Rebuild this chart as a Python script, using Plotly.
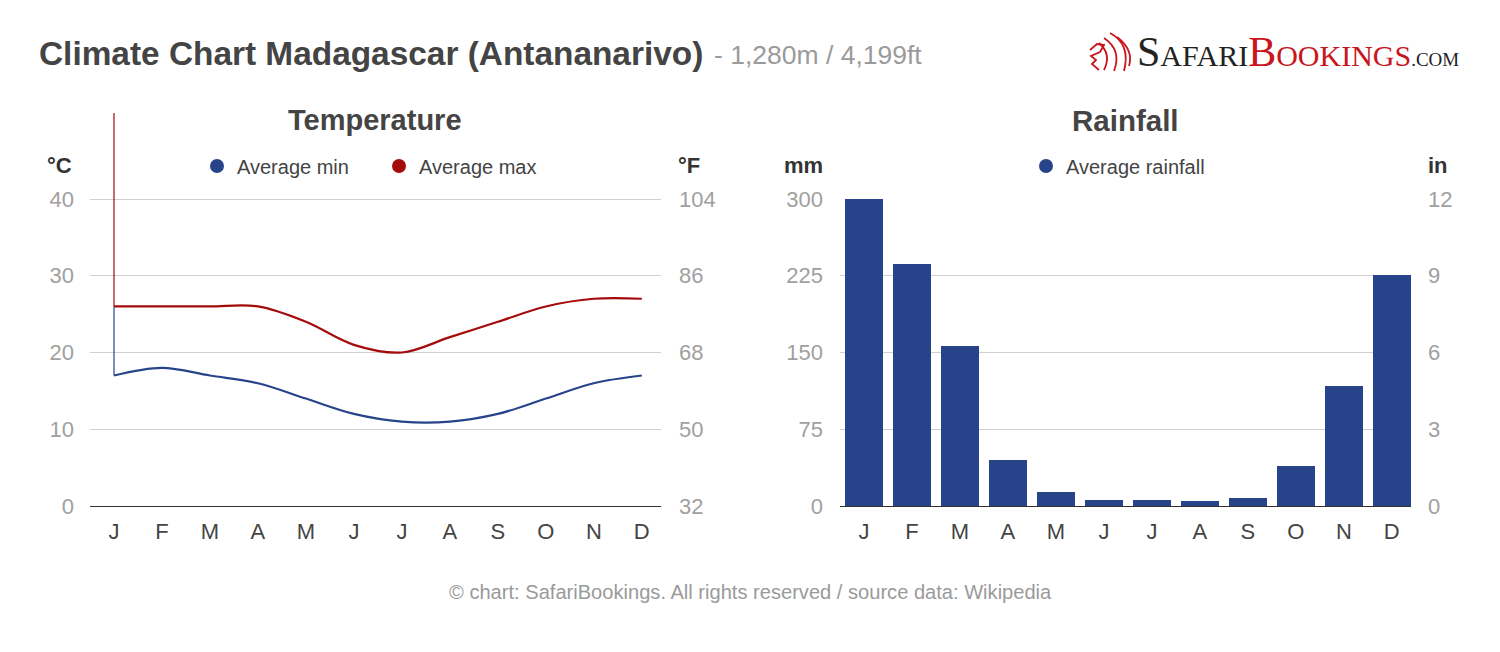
import plotly.graph_objects as go

# ---------------- data ----------------
MONTHS = ['Jan', 'Feb', 'Mar', 'Apr', 'May', 'Jun', 'Jul', 'Aug', 'Sep', 'Oct', 'Nov', 'Dec']
MONTH_TICKS = ['J', 'F', 'M', 'A', 'M', 'J', 'J', 'A', 'S', 'O', 'N', 'D']
TEMP_MIN_C = [17, 18, 17, 16, 14, 12, 11, 11, 12, 14, 16, 17]
TEMP_MAX_C = [26, 26, 26, 26, 24, 21, 20, 22, 24, 26, 27, 27]
RAIN_MM = [300, 236, 156, 45, 14, 6, 6, 5, 8, 39, 117, 226]
C_TICKS = [0, 10, 20, 30, 40]
F_TICKS = [32, 50, 68, 86, 104]
MM_TICKS = [0, 75, 150, 225, 300]
IN_TICKS = [0, 3, 6, 9, 12]

# ---------------- style ----------------
W, H = 1500, 652
FONT = 'Liberation Sans, Arial, sans-serif'
BLUE = '#27448b'
RED = '#a50b0b'
LOGO_RED = '#c8161d'
GRID = '#d0d0d0'
TICK_GREY = '#a0a0a0'
DARK = '#444444'


def px(x):
    return x / W


def py(y):
    return 1 - y / H


T_TOP = 40 * (506 - 113) / (506 - 199)   # temperature axis extends above 40 (artefact line)

fig = go.Figure()

# temperature lines
fig.add_trace(go.Scatter(x=MONTHS, y=TEMP_MIN_C, mode='lines', line=dict(color=BLUE, width=2.2, shape='spline', smoothing=1),
                         showlegend=False, xaxis='x', yaxis='y', hoverinfo='skip'))
fig.add_trace(go.Scatter(x=MONTHS, y=TEMP_MAX_C, mode='lines', line=dict(color=RED, width=2.2, shape='spline', smoothing=1),
                         showlegend=False, xaxis='x', yaxis='y', hoverinfo='skip'))
# legend entries (temperature)
fig.add_trace(go.Scatter(x=[None], y=[None], mode='markers', marker=dict(color=BLUE, size=14), name='Average min',
                         legend='legend', xaxis='x', yaxis='y2'))
fig.add_trace(go.Scatter(x=[None], y=[None], mode='markers', marker=dict(color=RED, size=14), name='Average max',
                         legend='legend', xaxis='x', yaxis='y2'))

# rainfall bars
fig.add_trace(go.Bar(x=MONTHS, y=RAIN_MM, marker=dict(color=BLUE, line=dict(width=0)), width=0.78,
                     showlegend=False, xaxis='x3', yaxis='y3', hoverinfo='skip'))
fig.add_trace(go.Scatter(x=[None], y=[None], mode='markers', marker=dict(color=BLUE, size=14), name='Average rainfall',
                         legend='legend2', xaxis='x3', yaxis='y4'))

tickfont = dict(family=FONT, size=22, color=TICK_GREY)
xtickfont = dict(family=FONT, size=22, color=DARK)

common_x = dict(type='category', range=[-0.5, 11.4], tickvals=MONTHS, ticktext=MONTH_TICKS, showgrid=False,
                showline=True, linecolor='#333333', linewidth=1.3, ticks='', tickfont=xtickfont,
                ticklabelstandoff=5, zeroline=False, fixedrange=True)

fig.update_layout(
    width=W, height=H, autosize=False,
    margin=dict(l=0, r=0, t=0, b=0, autoexpand=False),
    paper_bgcolor='white', plot_bgcolor='white',
    font=dict(family=FONT, color=DARK),
    bargap=0,
    xaxis=dict(domain=[px(90), px(661)], anchor='y', **common_x),
    yaxis=dict(domain=[py(506), py(113)], range=[0, T_TOP], tickvals=C_TICKS, showgrid=True, gridcolor=GRID,
               gridwidth=1, zeroline=False, showline=False, ticks='', tickfont=tickfont, ticklabelstandoff=15,
               anchor='x', fixedrange=True),
    yaxis2=dict(overlaying='y', side='right', anchor='x', range=[32, 32 + T_TOP * 1.8], tickvals=F_TICKS,
                showgrid=False, zeroline=False, showline=False, ticks='', tickfont=tickfont,
                ticklabelstandoff=17, fixedrange=True),
    xaxis3=dict(domain=[px(840), px(1411)], anchor='y3', **common_x),
    yaxis3=dict(domain=[py(506), py(199)], range=[0, 300], tickvals=MM_TICKS, showgrid=True, gridcolor=GRID,
                gridwidth=1, zeroline=False, showline=False, ticks='', tickfont=tickfont, ticklabelstandoff=16,
                anchor='x3', fixedrange=True),
    yaxis4=dict(overlaying='y3', side='right', anchor='x3', range=[0, 12], tickvals=IN_TICKS,
                showgrid=False, zeroline=False, showline=False, ticks='', tickfont=tickfont,
                ticklabelstandoff=16, fixedrange=True),
    legend=dict(orientation='h', x=px(379), xanchor='center', y=py(166), yanchor='middle',
                font=dict(family=FONT, size=20, color=DARK), bgcolor='rgba(0,0,0,0)',
                entrywidth=137, entrywidthmode='pixels', itemclick=False, itemdoubleclick=False),
    legend2=dict(orientation='h', x=px(1118), xanchor='center', y=py(166), yanchor='middle',
                 font=dict(family=FONT, size=20, color=DARK), bgcolor='rgba(0,0,0,0)',
                 itemclick=False, itemdoubleclick=False),
    showlegend=True,
)

# artefact vertical lines at January in the temperature chart
fig.add_shape(type='line', xref='x', yref='y', x0=0, x1=0, y0=TEMP_MAX_C[0], y1=T_TOP,
              line=dict(color=RED, width=1.2))
fig.add_shape(type='line', xref='x', yref='y', x0=0, x1=0, y0=TEMP_MIN_C[0], y1=TEMP_MAX_C[0],
              line=dict(color=BLUE, width=1.2))


# simple lion-head emblem of the logo (decoration, drawn in page pixels)
def path_px(cmds):
    out = []
    for c in cmds:
        if isinstance(c, str):
            out.append(c)
        else:
            out.append('%.5f,%.5f' % (px(c[0]), py(c[1])))
    return ' '.join(out)


LION_STROKES = [
    ['M', (1110, 33), 'Q', (1131, 44), (1124, 71)],
    ['M', (1117, 37), 'Q', (1134, 50), (1129, 66)],
    ['M', (1104, 38), 'Q', (1122, 50), (1114, 71)],
    ['M', (1099, 43), 'Q', (1112, 54), (1104, 70)],
    ['M', (1090, 50), 'L', (1097, 44), 'L', (1104, 45), 'L', (1100, 52), 'L', (1091, 56),
     'L', (1096, 60), 'L', (1092, 64), 'L', (1099, 70)],
]
for s in LION_STROKES:
    fig.add_shape(type='path', xref='paper', yref='paper', path=path_px(s),
                  line=dict(color=LOGO_RED, width=1.8))

ann = []
ann.append(dict(text='<b>Climate Chart Madagascar (Antananarivo)</b>', x=px(37), y=py(54), xref='paper', yref='paper',
                xanchor='left', yanchor='middle', showarrow=False, font=dict(family=FONT, size=33.4, color=DARK)))
ann.append(dict(text='- 1,280m / 4,199ft', x=px(712), y=py(55), xref='paper', yref='paper',
                xanchor='left', yanchor='middle', showarrow=False, font=dict(family=FONT, size=26.5, color='#9a9a9a')))
ann.append(dict(text='<b>Temperature</b>', x=px(375), y=py(120), xref='paper', yref='paper',
                xanchor='center', yanchor='middle', showarrow=False, font=dict(family=FONT, size=29, color=DARK)))
ann.append(dict(text='<b>Rainfall</b>', x=px(1125), y=py(120), xref='paper', yref='paper',
                xanchor='center', yanchor='middle', showarrow=False, font=dict(family=FONT, size=29.5, color=DARK)))
for t, xx in [('°C', 59), ('°F', 689), ('mm', 803), ('in', 1438)]:
    ann.append(dict(text='<b>%s</b>' % t, x=px(xx), y=py(165), xref='paper', yref='paper',
                    xanchor='center', yanchor='middle', showarrow=False, font=dict(family=FONT, size=22, color='#333333')))
ann.append(dict(text='© chart: SafariBookings. All rights reserved / source data: Wikipedia', x=0.5, y=py(592),
                xref='paper', yref='paper', xanchor='center', yanchor='middle', showarrow=False,
                font=dict(family=FONT, size=20.1, color='#9a9a9a')))
# logo text
SERIF = 'Liberation Serif, DejaVu Serif, serif'
logo = ("<span style='color:#222222'><span style='font-size:42px'>S</span>AFARI</span>"
        "<span style='color:%s'><span style='font-size:42px'>B</span>OOKINGS</span>"
        "<span style='color:#222222;font-size:19px'>.COM</span>") % LOGO_RED
ann.append(dict(text=logo, x=px(1135), y=py(52), xref='paper', yref='paper', xanchor='left', yanchor='middle',
                showarrow=False, font=dict(family=SERIF, size=30, color='#222222')))
fig.update_layout(annotations=ann)

fig.write_html('out.html', config={'displayModeBar': False},
               post_script="document.body.style.margin='0px';document.body.style.overflow='hidden';")
